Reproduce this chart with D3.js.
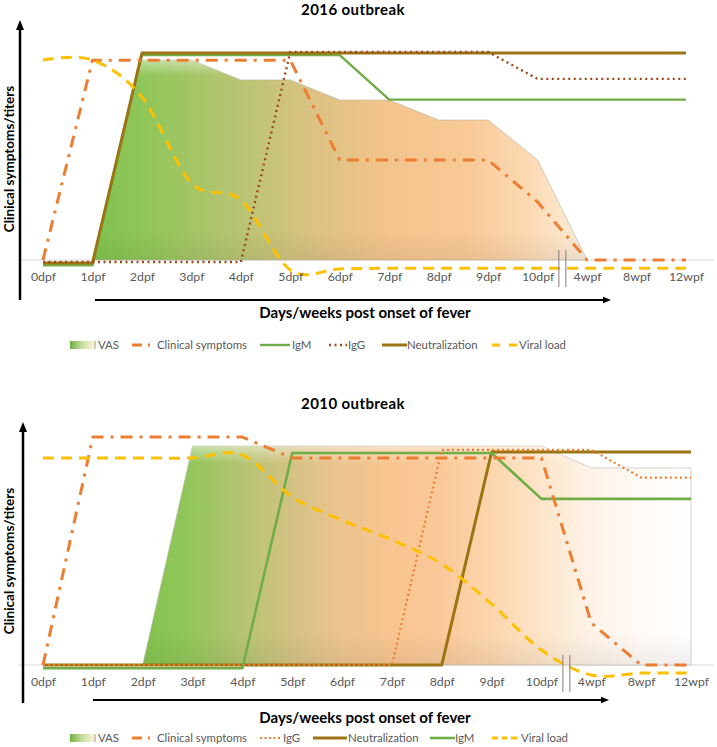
<!DOCTYPE html>
<html><head><meta charset="utf-8">
<script src="https://cdn.jsdelivr.net/npm/d3@7"></script>
<style>body{margin:0;background:#fff} svg{display:block;font-family:Lato,"Open Sans",sans-serif}</style>
</head><body><svg id="c" width="717" height="747"></svg>
<script>
// ---------- DATA ----------
const categories = ["0dpf","1dpf","2dpf","3dpf","4dpf","5dpf","6dpf","7dpf","8dpf","9dpf","10dpf","4wpf","8wpf","12wpf"];

// 2016 outbreak (relative level, 0 = baseline, 10 = max titer)
const vas2016      = [null,0,9.66,9.66,8.7,8.7,7.73,7.73,6.76,6.76,4.83,0,null,null];
const clinical2016 = [0,9.65,9.65,9.65,9.65,9.65,4.83,4.83,4.83,4.83,2.8,0,0,0];
const igm2016      = [-0.25,-0.25,9.9,9.9,9.9,9.9,9.9,7.75,7.75,7.75,7.75,7.75,7.75,7.75];
const igg2016      = [-0.1,-0.1,-0.1,-0.1,-0.1,10.05,10.05,10.05,10.05,10.05,8.75,8.75,8.75,8.75];
const neut2016     = [-0.15,-0.15,10,10,10,10,10,10,10,10,10,10,10,10];
const viral2016    = [9.66,9.66,7.87,3.72,2.9,-0.48,-0.43,-0.4,-0.4,-0.4,-0.4,-0.4,-0.4,-0.4];
const legend2016   = ["VAS","Clinical symptoms","IgM","IgG","Neutralization","Viral load"];

// 2010 outbreak
const vas2010      = [null,null,0,10.28,10.28,10.28,10.28,10.28,10.28,10.28,10.28,9.25,9.25,9.25];
const clinical2010 = [0,10.7,10.7,10.7,10.7,9.72,9.72,9.72,9.72,9.72,9.72,1.97,0,0];
const igg2010      = [0,0,0,0,0,0,0,0,10.1,10.1,10.1,10.1,8.8,8.8];
const neut2010     = [0,0,0,0,0,0,0,0,0,10,10,10,10,10];
const igm2010      = [-0.15,-0.15,-0.15,-0.15,-0.15,9.95,9.95,9.95,9.95,9.95,7.8,7.8,7.8,7.8];
const viral2010    = [9.72,9.72,9.72,9.72,9.86,7.89,6.8,5.87,4.74,2.86,0.7,-0.47,-0.38,-0.38];
const legend2010   = ["VAS","Clinical symptoms","IgG","Neutralization","IgM","Viral load"];

// ---------- STYLES ----------
const styles = {
  "Clinical symptoms": {color:"#ed7d31", width:3, dash:"12,7,3,7", curve:d3.curveLinear, legDash:"10,6,2,10"},
  "IgM": {color:"#70ad47", width:2.4, dash:null, curve:d3.curveLinear, legDash:null},
  "Neutralization": {color:"#9b7413", width:3, dash:null, curve:d3.curveLinear, legDash:null},
  "Viral load": {color:"#ffc000", width:3, dash:"11,7", curve:d3.curveCardinal, legDash:"8,9"}
};

const svg = d3.select("#c");
const defs = svg.append("defs");
defs.append("marker").attr("id","arr").attr("viewBox","0 0 10 10").attr("refX",5).attr("refY",5)
  .attr("markerWidth",4).attr("markerHeight",4).attr("orient","auto")
  .append("path").attr("d","M0,1 L10,5 L0,9 Z").attr("fill","#000");

function drawPanel(p){
  const g = svg.append("g");
  const x = d3.scalePoint().domain(categories).range(p.xRange);
  const y = d3.scaleLinear().domain([0,10]).range(p.yRange);
  const step = x.step();

  // title
  g.append("text").attr("x",353).attr("y",p.titleY).attr("text-anchor","middle")
    .attr("font-weight","bold").attr("font-size",15).attr("letter-spacing",0.4).attr("fill","#000").text(p.title);

  // baseline
  g.append("line").attr("x1",18).attr("x2",714).attr("y1",y(0)).attr("y2",y(0))
    .attr("stroke","#d9d9d9").attr("stroke-width",1.2);

  // VAS area gradient
  const vIdx = p.vas.map((v,i)=>v==null?null:i).filter(v=>v!=null);
  const gx0 = x(categories[vIdx[0]]), gx1 = x(categories[vIdx[vIdx.length-1]]);
  const grad = defs.append("linearGradient").attr("id","g"+p.id).attr("gradientUnits","userSpaceOnUse")
    .attr("x1",gx0).attr("x2",gx1).attr("y1",0).attr("y2",0);
  p.stops.forEach(s=>grad.append("stop").attr("offset",s[0]).attr("stop-color",s[1]));
  const vg = defs.append("linearGradient").attr("id","v"+p.id).attr("x1",0).attr("x2",0).attr("y1",0).attr("y2",1);
  vg.append("stop").attr("offset",0).attr("stop-color","#fff").attr("stop-opacity",0.45);
  vg.append("stop").attr("offset",0.08).attr("stop-color","#fff").attr("stop-opacity",0.0);
  vg.append("stop").attr("offset",0.85).attr("stop-color","#000").attr("stop-opacity",0.0);
  vg.append("stop").attr("offset",1).attr("stop-color","#000").attr("stop-opacity",0.06);

  const area = d3.area().defined(d=>d.v!=null).x(d=>x(d.c)).y0(y(0)).y1(d=>y(d.v));
  const vasData = categories.map((c,i)=>({c, v:p.vas[i]}));
  g.append("path").datum(vasData).attr("d",area).attr("fill",`url(#g${p.id})`)
    .attr("stroke","#b9b2a4").attr("stroke-opacity",0.6).attr("stroke-width",1);
  g.append("path").datum(vasData).attr("d",area).attr("fill",`url(#v${p.id})`);

  // lines
  p.series.forEach(s=>{
    const st = Object.assign({}, styles[s.name], s.style||{});
    const line = d3.line().x(d=>x(d.c)).y(d=>y(d.v)).curve(st.curve);
    g.append("path").datum(categories.map((c,i)=>({c,v:s.values[i]})))
      .attr("d",line).attr("fill","none").attr("stroke",st.color)
      .attr("stroke-width",st.width).attr("stroke-dasharray",st.dash)
      .attr("stroke-linejoin","round");
  });

  // tick labels
  const xAxis = d3.axisBottom(x).tickSize(0).tickPadding(0);
  const ax = g.append("g").attr("transform",`translate(0,${p.tickY})`).call(xAxis);
  ax.select(".domain").remove();
  ax.selectAll("text").attr("font-size",12.3).attr("fill","#595959").attr("font-family","Lato,'Open Sans',sans-serif").attr("dy","0.35em");

  // break marks
  const bx = x("10dpf") + step/2;
  [-3.5,3.5].forEach(o=>g.append("line").attr("x1",bx+o).attr("x2",bx+o)
    .attr("y1",y(0)-10).attr("y2",y(0)+27).attr("stroke","#7f7f7f").attr("stroke-width",1));

  // y axis
  g.append("line").attr("x1",p.yAxisX).attr("x2",p.yAxisX).attr("y1",p.yAxisBottom).attr("y2",p.yAxisTop)
    .attr("stroke","#000").attr("stroke-width",2.5).attr("marker-end","url(#arr)");
  // x arrow
  g.append("line").attr("x1",p.arrowX0).attr("x2",p.arrowX1).attr("y1",p.arrowY).attr("y2",p.arrowY)
    .attr("stroke","#000").attr("stroke-width",2).attr("marker-end","url(#arr)");

  // axis titles
  g.append("text").attr("x",365).attr("y",p.xLabelY).attr("text-anchor","middle").attr("dy","0.35em")
    .attr("font-weight","bold").attr("font-size",15).attr("fill","#000").text("Days/weeks post onset of fever");
  g.append("text").attr("transform",`translate(${p.yLabelX},${p.yLabelY}) rotate(-90)`).attr("text-anchor","middle").attr("dy","0.35em")
    .attr("font-weight","bold").attr("font-size",13.5).attr("fill","#000").text("Clinical symptoms/titers");

  // legend
  const lgr = defs.append("linearGradient").attr("id","leg"+p.id);
  [[0,"#70b040"],[0.5,"#c8e0a0"],[1,"#fff4dc"]].forEach(s=>lgr.append("stop").attr("offset",s[0]).attr("stop-color",s[1]));
  const lg = g.append("g").attr("transform",`translate(0,${p.legendY})`);
  p.legend.forEach((name,i)=>{
    const L = p.legendLayout[i];
    if(name==="VAS"){
      lg.append("rect").attr("x",L[0]).attr("y",-4).attr("width",L[1]-L[0]).attr("height",8)
        .attr("fill",`url(#leg${p.id})`);
      lg.append("line").attr("x1",L[1]).attr("x2",L[1]).attr("y1",-4).attr("y2",4).attr("stroke","#999");
    } else {
      const s = p.series.find(d=>d.name===name);
      const st = Object.assign({}, styles[name], s.style||{});
      lg.append("line").attr("x1",L[0]).attr("x2",L[1]).attr("y1",0).attr("y2",0)
        .attr("stroke",st.color).attr("stroke-width",st.width)
        .attr("stroke-dasharray",st.legDash);
    }
    lg.append("text").attr("x",L[2]).attr("y",0).attr("dy","0.35em").attr("font-size",11.4)
      .attr("fill","#595959").text(name);
  });
}

drawPanel({
  id:"a", title:"2016 outbreak", titleY:15,
  xRange:[43,686], yRange:[260,53], tickY:277,
  yAxisX:20, yAxisTop:25, yAxisBottom:300,
  arrowX0:95, arrowX1:607, arrowY:300,
  xLabelY:313, yLabelX:9, yLabelY:159, legendY:345,
  vas:vas2016,
  stops:[[0,"#7fc24d"],[0.13,"#95c65c"],[0.3,"#b9c473"],[0.45,"#dcc283"],[0.6,"#f4c48d"],[0.75,"#f9c996"],[0.88,"#fcd9b2"],[1,"#fdeedd"]],
  series:[
    {name:"IgM", values:igm2016},
    {name:"Neutralization", values:neut2016},
    {name:"IgG", values:igg2016, style:{color:"#9e4a1f", width:2.4, dash:"2,3.5", curve:d3.curveLinear, legDash:"2,3.5"}},
    {name:"Clinical symptoms", values:clinical2016},
    {name:"Viral load", values:viral2016}
  ],
  legend:legend2016,
  legendLayout:[[70,95,98],[132,150,157],[260,290,292],[329,347,348],[382,407,407],[492,518,519]]
});

drawPanel({
  id:"b", title:"2010 outbreak", titleY:408.5,
  xRange:[43,691], yRange:[665,452], tickY:682,
  yAxisX:23, yAxisTop:427, yAxisBottom:703,
  arrowX0:93, arrowX1:605, arrowY:700,
  xLabelY:718, yLabelX:9, yLabelY:561, legendY:738,
  vas:vas2010,
  stops:[[0,"#82c34f"],[0.09,"#93c65b"],[0.18,"#b5c472"],[0.27,"#d3c283"],[0.36,"#ecc48e"],[0.455,"#f8c590"],[0.545,"#fac99a"],[0.636,"#fcd6ad"],[0.727,"#fde5ca"],[0.81,"#fef2e6"],[0.9,"#fffaf5"],[1,"#ffffff"]],
  series:[
    {name:"Neutralization", values:neut2010},
    {name:"IgM", values:igm2010, style:{width:2.6}},
    {name:"IgG", values:igg2010, style:{color:"#ed7d31", width:2.2, dash:"2,3", curve:d3.curveLinear, legDash:"2,2.5"}},
    {name:"Clinical symptoms", values:clinical2010},
    {name:"Viral load", values:viral2010, style:{legDash:"6,3.5"}}
  ],
  legend:legend2010,
  legendLayout:[[70,95,98],[132,150,157],[260,280,283],[313,347,348],[430,455,455],[492,520,521]]
});
</script></body></html>
